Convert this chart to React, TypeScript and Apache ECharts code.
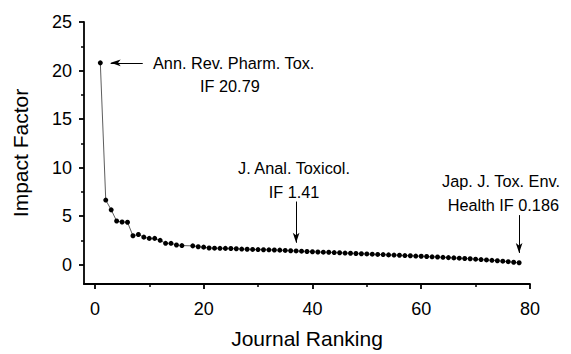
import React, { useEffect, useRef } from "react";
import * as echarts from "echarts";

const ranks: number[] = [
  1, 2, 3, 4, 5, 6, 7, 8, 9, 10, 11, 12, 13, 14, 15, 16,
  18, 19, 20, 21, 22, 23, 24, 25, 26, 27, 28, 29, 30, 31, 32, 33, 34, 35, 36, 37,
  38, 39, 40, 41, 42, 43, 44, 45, 46, 47, 48, 49, 50, 51, 52, 53, 54, 55, 56, 57,
  58, 59, 60, 61, 62, 63, 64, 65, 66, 67, 68, 69, 70, 71, 72, 73, 74, 75, 76, 77, 78,
];
const impactFactors: number[] = [
  20.79, 6.65, 5.64, 4.49, 4.39, 4.36, 2.97, 3.1, 2.83, 2.7, 2.7, 2.5, 2.19, 2.19, 2.02, 1.96,
  1.93, 1.84, 1.8, 1.71, 1.69, 1.68, 1.67, 1.66, 1.63, 1.6, 1.58, 1.56, 1.55, 1.53, 1.52, 1.5, 1.49, 1.46, 1.43, 1.41,
  1.38, 1.35, 1.32, 1.3, 1.28, 1.27, 1.24, 1.22, 1.19, 1.17, 1.14, 1.12, 1.1, 1.07, 1.05, 1.03, 1.0, 0.98, 0.96, 0.93,
  0.91, 0.88, 0.86, 0.83, 0.8, 0.78, 0.75, 0.72, 0.69, 0.66, 0.63, 0.6, 0.56, 0.52, 0.48, 0.44, 0.4, 0.35, 0.3, 0.24, 0.186,
];
const xTickLabels: number[] = [0, 20, 40, 60, 80];
const xMinorTicks: number[] = [10, 30, 50, 70];
const yTickLabels: number[] = [0, 5, 10, 15, 20, 25];
const yMinorTicks: number[] = [2.5, 7.5, 12.5, 17.5, 22.5];

// annotation arrows: [fromX, fromY, toX, toY] in data units
const arrows: number[][] = [
  [8.8, 20.79, 2.9, 20.79],
  [37, 6.5, 37, 2.25],
  [78, 5.1, 78, 1.2],
];

const FONT = "'Liberation Sans', Arial, Helvetica, sans-serif";
const ANN = `16.3px ${FONT}`;

export default function App() {
  const ref = useRef<HTMLDivElement>(null);
  useEffect(() => {
    if (!ref.current) return;
    const chart = echarts.init(ref.current, undefined, { renderer: "svg" });
    const data = ranks.map((r, i) => [r, impactFactors[i]]);
    const axisLine = { show: true, onZero: false, lineStyle: { color: "#000", width: 1.8 } };
    const txt = (x: number, y: number, text: string, align: string) => ({
      type: "text",
      x,
      y,
      style: { text, font: ANN, fill: "#000", textAlign: align, textVerticalAlign: "middle" },
    });
    chart.setOption({
      animation: false,
      backgroundColor: "#fff",
      grid: { left: 84, right: 41, top: 22, bottom: 65, containLabel: false },
      xAxis: [
        {
          type: "value",
          min: -2,
          max: 80,
          axisLine,
          splitLine: { show: false },
          axisTick: { show: true, inside: false, length: 5, lineStyle: { color: "#000", width: 1.8 }, customValues: xTickLabels },
          axisLabel: { customValues: xTickLabels, color: "#000", fontSize: 18, fontFamily: FONT, margin: 16 },
          name: "Journal Ranking",
          nameLocation: "middle",
          nameGap: 44,
          nameTextStyle: { color: "#000", fontSize: 21, fontFamily: FONT },
        },
        {
          type: "value",
          position: "bottom",
          min: -2,
          max: 80,
          axisLine: { show: false, onZero: false },
          splitLine: { show: false },
          axisTick: { show: true, inside: false, length: 3, lineStyle: { color: "#000", width: 1.5 }, customValues: xMinorTicks },
          axisLabel: { show: false },
        },
      ],
      yAxis: [
        {
          type: "value",
          min: -2,
          max: 25,
          axisLine,
          splitLine: { show: false },
          axisTick: { show: true, inside: false, length: 5, lineStyle: { color: "#000", width: 1.8 }, customValues: yTickLabels },
          axisLabel: { customValues: yTickLabels, color: "#000", fontSize: 18, fontFamily: FONT, margin: 12 },
          name: "Impact Factor",
          nameLocation: "middle",
          nameGap: 53,
          nameRotate: 90,
          nameTextStyle: { color: "#000", fontSize: 21, fontFamily: FONT },
        },
        {
          type: "value",
          position: "left",
          min: -2,
          max: 25,
          axisLine: { show: false, onZero: false },
          splitLine: { show: false },
          axisTick: { show: true, inside: false, length: 3, lineStyle: { color: "#000", width: 1.5 }, customValues: yMinorTicks },
          axisLabel: { show: false },
        },
      ],
      series: [
        {
          type: "line",
          data,
          symbol: "circle",
          symbolSize: 5,
          showSymbol: true,
          itemStyle: { color: "#000" },
          lineStyle: { color: "#333", width: 0.8 },
          markLine: {
            silent: true,
            symbol: ["none", "arrow"],
            symbolSize: [5, 10],
            label: { show: false },
            lineStyle: { color: "#000", width: 1, type: "solid" },
            data: arrows.map((a) => [{ coord: [a[0], a[1]] }, { coord: [a[2], a[3]] }]),
          },
        },
      ],
      graphic: [
        txt(153, 63, "Ann. Rev. Pharm. Tox.", "left"),
        txt(200, 86, "IF 20.79", "left"),
        txt(294, 168, "J. Anal. Toxicol.", "center"),
        txt(294, 192, "IF 1.41", "center"),
        txt(560, 181, "Jap. J. Tox. Env.", "right"),
        txt(559, 205, "Health IF 0.186", "right"),
      ],
    });
    return () => chart.dispose();
  }, []);
  return <div ref={ref} style={{ position: "fixed", left: 0, top: 0, width: 571, height: 354 }} />;
}
